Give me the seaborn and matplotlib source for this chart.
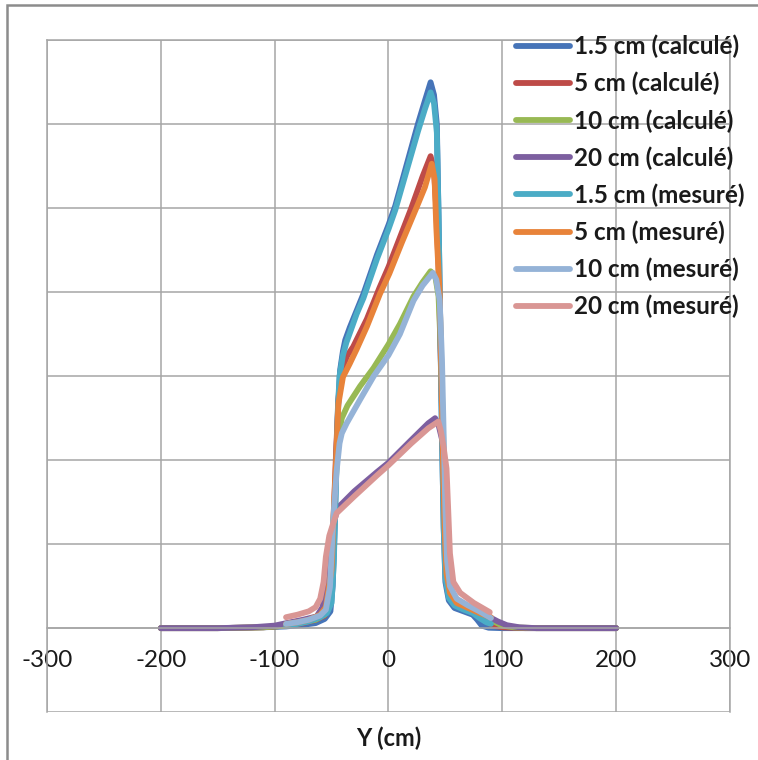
import numpy as np
import pandas as pd
import seaborn as sns
import matplotlib.pyplot as plt
from matplotlib.patches import Rectangle

# Profils de dose
labels = ["1.5 cm (calculé)", "5 cm (calculé)", "10 cm (calculé)", "20 cm (calculé)",
          "1.5 cm (mesuré)", "5 cm (mesuré)", "10 cm (mesuré)", "20 cm (mesuré)"]
colors = ["#4674B8", "#BE4B48", "#98B954", "#7D5FA0",
          "#4BACC6", "#E8833A", "#95B3D7", "#D99694"]

x_calc_15 = [-200, -150, -110, -90, -75, -64, -56, -51, -49, -47, -45.5, -44, -42.5, -40, -38, -34, -28, -22,
             -10, 0, 6, 16, 26, 32, 37, 40, 42.5, 44, 45.5, 47, 48.5, 50, 53, 58, 66, 74, 78, 82, 88, 100, 150, 200]
y_calc_15 = [0, 0, 0.01, 0.02, 0.04, 0.06, 0.11, 0.2, 0.5, 1.3, 2.2, 2.7, 3.07, 3.3, 3.43, 3.58, 3.78, 3.98,
             4.45, 4.8, 5.03, 5.52, 6.01, 6.28, 6.5, 6.35, 6.0, 4.9, 3.6, 2.3, 1.2, 0.55, 0.33, 0.24, 0.2, 0.16,
             0.1, 0.03, 0.005, 0, 0, 0]

x_calc_5 = [-200, -150, -110, -90, -75, -64, -56, -52, -50, -48, -46, -44, -42, -39, -36, -31, -19, -8, 0,
            10, 20, 30, 37, 40, 42, 44, 46, 48, 49.5, 51, 54, 60, 70, 80, 86, 92, 100, 120, 150, 200]
y_calc_5 = [0, 0, 0.01, 0.03, 0.06, 0.1, 0.15, 0.3, 0.7, 1.4, 2.1, 2.72, 2.98, 3.15, 3.25, 3.35, 3.68, 4.05,
            4.3, 4.65, 5.0, 5.38, 5.62, 5.45, 5.0, 4.3, 3.2, 2.0, 1.1, 0.6, 0.38, 0.28, 0.22, 0.15, 0.08, 0.03,
            0.01, 0, 0, 0]

x_calc_10 = [-200, -150, -110, -90, -75, -64, -56, -53, -51, -49, -47, -45, -43, -41, -36, -25, -13, 0, 10,
             22, 30, 37, 41, 44, 46, 48, 49.5, 51, 54, 60, 70, 80, 88, 94, 100, 110, 130, 150, 200]
y_calc_10 = [0, 0, 0.01, 0.03, 0.07, 0.1, 0.16, 0.3, 0.6, 1.1, 1.6, 2.05, 2.35, 2.5, 2.65, 2.88, 3.1, 3.38,
             3.62, 3.95, 4.12, 4.25, 4.2, 3.95, 3.3, 2.3, 1.4, 0.8, 0.45, 0.32, 0.25, 0.18, 0.12, 0.07, 0.03,
             0.01, 0, 0, 0]

x_calc_20 = [-200, -150, -120, -100, -86, -75, -63, -58, -55, -52, -49, -46, -44, -30, -10, 0, 20, 35, 41,
             44, 47, 49, 51, 53, 56, 60, 68, 78, 89, 96, 104, 115, 130, 150, 200]
y_calc_20 = [0, 0, 0.01, 0.03, 0.07, 0.1, 0.14, 0.25, 0.6, 0.95, 1.2, 1.36, 1.44, 1.63, 1.86, 1.97, 2.24,
             2.44, 2.5, 2.42, 2.25, 1.9, 1.2, 0.7, 0.4, 0.3, 0.23, 0.18, 0.13, 0.08, 0.035, 0.01, 0, 0, 0]

x_mes_15 = [-90, -80, -70, -60, -54, -50, -48, -46, -44.5, -43, -40, -37, -33, -28, -22, -10, 0, 6, 16, 26,
            32, 37, 40, 42.5, 44, 45.5, 47, 48.5, 50, 53, 58, 66, 74, 80, 86, 90]
y_mes_15 = [0.03, 0.05, 0.08, 0.13, 0.18, 0.3, 0.8, 1.8, 2.6, 3.0, 3.25, 3.4, 3.55, 3.74, 3.93, 4.4, 4.75,
            4.98, 5.45, 5.92, 6.18, 6.38, 6.25, 5.9, 4.9, 3.6, 2.3, 1.2, 0.6, 0.36, 0.27, 0.22, 0.18, 0.12,
            0.07, 0.05]

x_mes_5 = [-90, -80, -70, -60, -55, -50, -48, -46, -44, -40, -34, -28, -19, -7.5, 0.7, 12, 25, 32, 38, 40.5,
           42, 45, 46.5, 48, 49.5, 51, 54, 60, 70, 80, 90]
y_mes_5 = [0.05, 0.07, 0.1, 0.16, 0.25, 0.7, 1.4, 2.0, 2.67, 2.99, 3.15, 3.32, 3.59, 3.98, 4.22, 4.6, 5.02,
           5.25, 5.53, 5.35, 4.78, 3.98, 3.0, 1.9, 1.1, 0.65, 0.42, 0.3, 0.24, 0.18, 0.13]

x_mes_10 = [-90, -80, -70, -60, -55, -51.4, -48.5, -45.5, -43, -41, -36.7, -25, -13, 0, 10, 22, 30, 39, 42,
            45, 47, 48.5, 50, 51.5, 54, 60, 70, 80, 90]
y_mes_10 = [0.05, 0.07, 0.1, 0.15, 0.22, 0.49, 1.29, 1.88, 2.2, 2.32, 2.44, 2.72, 3.0, 3.25, 3.5, 3.9, 4.08,
            4.23, 4.15, 3.9, 3.2, 2.3, 1.4, 0.8, 0.5, 0.35, 0.27, 0.2, 0.12]

x_mes_20 = [-90, -80, -70, -64, -60, -57, -55, -52, -48.5, -45.5, -30, -10, 0, 20, 35, 43.8, 46, 48.5, 51,
            52.5, 54, 57, 63, 75, 89]
y_mes_20 = [0.13, 0.16, 0.2, 0.25, 0.35, 0.55, 0.85, 1.1, 1.25, 1.37, 1.57, 1.82, 1.94, 2.2, 2.38, 2.46,
            2.35, 2.15, 1.9, 1.4, 0.89, 0.55, 0.42, 0.3, 0.19]

series_x = [x_calc_15, x_calc_5, x_calc_10, x_calc_20, x_mes_15, x_mes_5, x_mes_10, x_mes_20]
series_y = [y_calc_15, y_calc_5, y_calc_10, y_calc_20, y_mes_15, y_mes_5, y_mes_10, y_mes_20]

df = pd.concat(
    [pd.DataFrame({"Y": xs, "dose": ys, "serie": lab}) for xs, ys, lab in zip(series_x, series_y, labels)],
    ignore_index=True,
)

sns.set_theme(style="white")
plt.rcParams["font.family"] = ["Lato", "DejaVu Sans"]
plt.rcParams["axes.unicode_minus"] = False

fig = plt.figure(figsize=(7.58, 7.60), dpi=100)
ax = fig.add_axes([0.062, 0.063, 0.901, 0.884])

sns.lineplot(data=df, x="Y", y="dose", hue="serie", hue_order=labels,
             palette=dict(zip(labels, colors)), sort=False, estimator=None,
             linewidth=4.2, ax=ax)

ax.set_xlim(-300, 300)
ax.set_ylim(-1, 7)
ax.set_xticks(np.arange(-300, 301, 100))
ax.set_yticks(np.arange(-1, 8, 1))
ax.set_yticklabels([])
ax.grid(True, color="#a6a6a6", linewidth=1.1)
ax.set_axisbelow(True)

for side in ["top", "right", "left", "bottom"]:
    ax.spines[side].set_color("#a6a6a6")
    ax.spines[side].set_linewidth(1.1)
ax.spines["bottom"].set_position(("data", 0))
ax.tick_params(axis="x", length=0, pad=16, labelsize=17.5, colors="#1a1a1a")
ax.tick_params(axis="y", length=0)
ax.set_ylabel("")
ax.set_xlabel("Y (cm)", fontsize=17, fontweight="bold", color="#1a1a1a")
ax.xaxis.set_label_coords(0.5, -0.021)

sns.move_legend(ax, "upper left", bbox_to_anchor=(0.668, 0.967), bbox_transform=fig.transFigure,
                frameon=False, title=None, fontsize=17.5, handlelength=2.2, handletextpad=0.2,
                labelspacing=0.56, borderaxespad=0)
leg = ax.get_legend()
for h in leg.get_lines():
    h.set_linewidth(4.2)
for t in leg.get_texts():
    t.set_fontweight("bold")
    t.set_color("#1a1a1a")

fig.add_artist(Rectangle((7 / 758, -0.1), 1.2, 1.1 - 5 / 760, transform=fig.transFigure,
                         fill=False, edgecolor="#8c8c8c", linewidth=1.8))

fig.savefig("out.png", dpi=100)
